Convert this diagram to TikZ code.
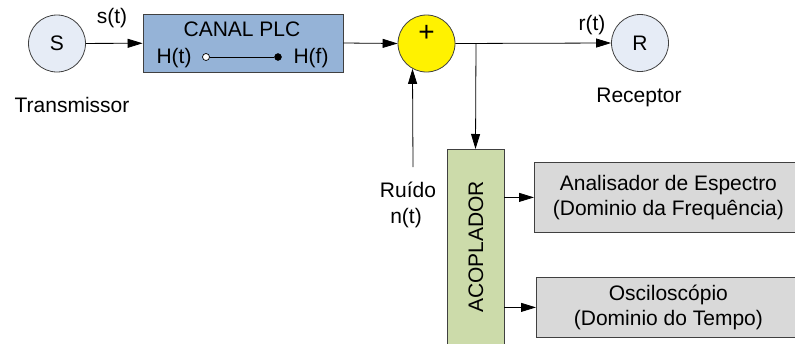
\documentclass[tikz,border=0pt]{standalone}
\usepackage{fontspec}
\setmainfont{Liberation Sans}
\usetikzlibrary{arrows.meta}
\definecolor{circfill}{HTML}{E6ECF6}
\definecolor{canalfill}{HTML}{95B3D7}
\definecolor{acopfill}{HTML}{CCDBAA}
\definecolor{greyfill}{HTML}{D9D9D9}
\definecolor{edge}{HTML}{404040}
\begin{document}
\begin{tikzpicture}[x=1pt,y=-1pt,
  every node/.style={font=\fontsize{21}{25}\selectfont, inner sep=0pt},
  circ/.style={circle, draw=edge, line width=0.8pt, minimum size=57pt},
  blk/.style={rectangle, draw=edge, line width=0.8pt},
  arr/.style={-{Triangle[length=15pt,width=9pt]}, line width=0.8pt},
  wire/.style={line width=0.8pt}]
\useasboundingbox (0,0) rectangle (795,343);
\clip (0,0) rectangle (795,343);
% nodes
\node[circ, fill=circfill] (S) at (57,43.5) {S};
\node[blk, fill=canalfill, minimum width=200pt, minimum height=58pt] (canal) at (243,43) {};
\node[circ, fill=yellow] (add) at (426.5,43.5) {};
\node[font=\fontsize{28}{28}\selectfont] (plus) at (426.5,33) {+};
\node[circ, fill=circfill] (R) at (640,43) {R};
\node[blk, fill=acopfill, minimum width=57pt, minimum height=220pt, anchor=north] (acop) at (475.5,149) {};
\node[rotate=90] (acoptxt) at (476,247) {ACOPLADOR};
\node[blk, fill=greyfill, minimum width=268pt, minimum height=70pt, anchor=north west, align=center] (ana) at (534,162) {Analisador de Espectro\\(Dominio da Frequência)};
\node[blk, fill=greyfill, minimum width=264pt, minimum height=60pt, anchor=north west, align=center] (osc) at (536,277) {Osciloscópio\\(Dominio do Tempo)};
% canal internals
\node (title) at (242,29) {CANAL PLC};
\node (ht) at (174,58) {H(t)};
\node (hf) at (311,58) {H(f)};
\node[circle, draw=black, fill=white, line width=0.7pt, minimum size=7pt] (od) at (206,57) {};
\node[circle, draw=black, fill=black, minimum size=7pt] (fd) at (278,57) {};
\draw[wire] (od) -- (fd);
% labels
\node (st) at (112,18) {s(t)};
\node (rt) at (592,25) {r(t)};
\node (tx) at (72,105) {Transmissor};
\node (rx) at (639,97) {Receptor};
\node (ruido) at (408,190) {Ruído};
\node (nt) at (406,218) {n(t)};
% connectors
\coordinate (J) at (476,43.5);
\coordinate (N) at (413,167);
\draw[arr] (S) -- (canal);
\draw[arr] (canal.east) -- (add.west);
\draw[arr] (add.east) -- (R.west);
\draw[arr] (J) -- (acop.north);
\draw[arr] (N) -- (add.241.7);
\draw[arr] (acop.east |- ana.west) -- (ana.west);
\draw[arr] (acop.east |- osc.west) -- (osc.west);
\end{tikzpicture}
\end{document}
